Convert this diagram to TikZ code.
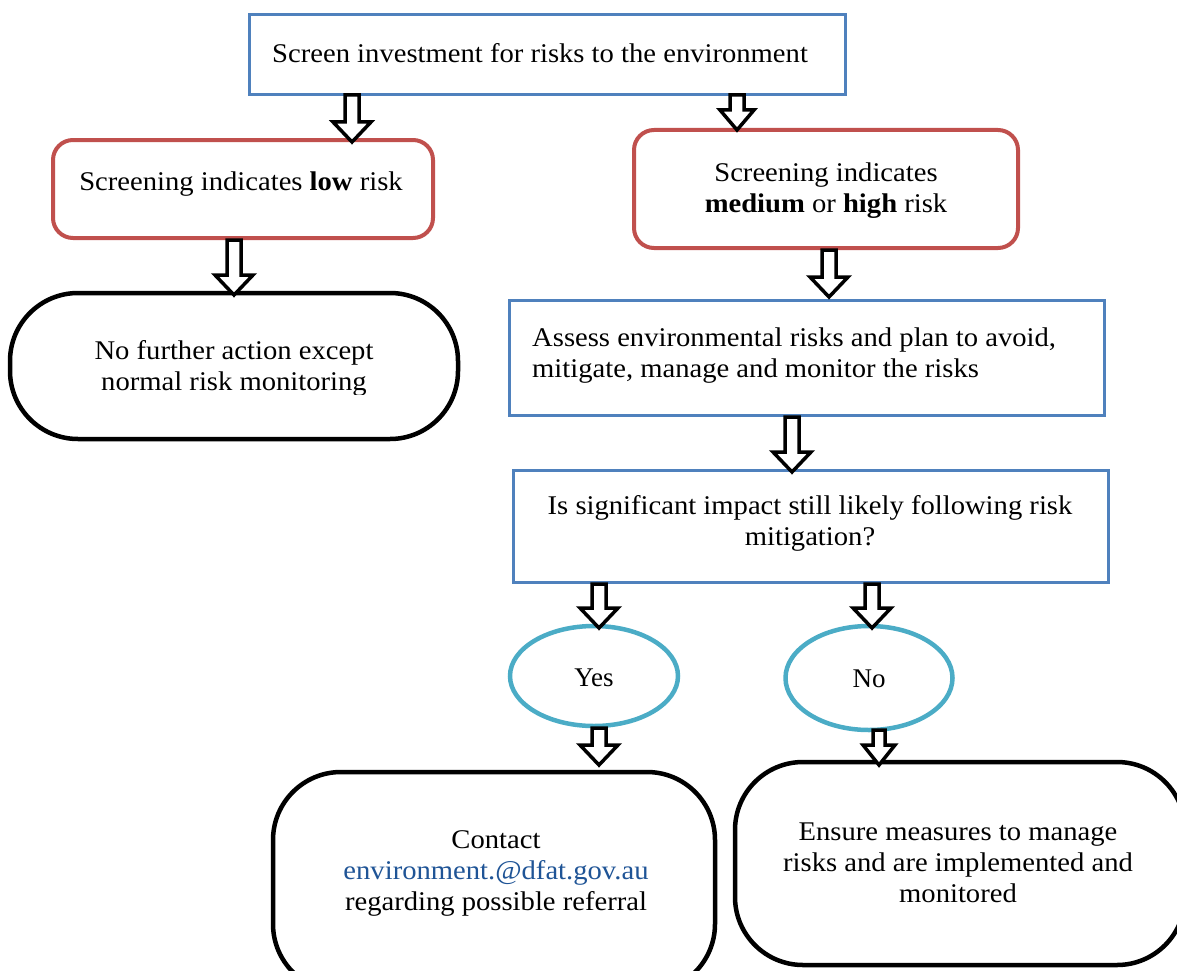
\documentclass[tikz,border=0pt]{standalone}
\usepackage{fontspec}
\setmainfont{Liberation Serif}[FakeStretch=1.06]
\newfontfamily\timesfont{Liberation Serif}
\usetikzlibrary{shapes.geometric,calc}
\definecolor{oblue}{RGB}{79,129,189}
\definecolor{ored}{RGB}{192,80,77}
\definecolor{ocyan}{RGB}{75,172,198}
\definecolor{olink}{RGB}{31,84,150}
\tikzset{
  bluebox/.style={draw=oblue, line width=3pt, fill=white, inner sep=0pt},
  redbox/.style={draw=ored, line width=4pt, rounded corners=20pt, fill=white, inner sep=0pt},
  stadium/.style={draw=black, line width=4.5pt, rounded corners=68pt, fill=white, inner sep=0pt},
  oval/.style={ellipse, draw=ocyan, line width=4.5pt, fill=white, inner sep=0pt},
  txt/.style={font=\fontsize{27}{31}\selectfont, align=center, inner sep=0pt},
  txtl/.style={font=\fontsize{27}{31}\selectfont, align=left, inner sep=0pt},
  yn/.style={font=\timesfont\fontsize{27}{30}\selectfont, inner sep=0pt},
  blk/.style={draw=black, line width=3.5pt, fill=white, line join=miter}
}
\newcommand\blkarrow[4]{% top coord, tip coord, shaft half width, head half width
  \draw[blk] let \p1=(#1), \p2=(#2) in
    (\x1-#3pt,\y1) -- (\x1+#3pt,\y1) -- (\x1+#3pt,\y2+20pt) -- (\x1+#4pt,\y2+20pt)
    -- (\x1,\y2) -- (\x1-#4pt,\y2+20pt) -- (\x1-#3pt,\y2+20pt) -- cycle;}
\begin{document}
\begin{tikzpicture}[x=1pt,y=-1pt]
\useasboundingbox (0,0) rectangle (1177,971);
% boxes
\node[bluebox, minimum width=596pt, minimum height=80pt] (b1) at (547,55) {};
\node[txtl, anchor=west] (t1) at (272,53) {Screen investment for risks to the environment};
\node[redbox, minimum width=380pt, minimum height=98pt] (r1) at (243,189) {};
\node[txt] (t2) at (241,184) {Screening indicates \textbf{low} risk};
\node[redbox, minimum width=384pt, minimum height=118pt] (r2) at (826,189) {};
\node[txt] (t3) at (826,191) {Screening indicates\\\textbf{medium} or \textbf{high} risk};
\node[stadium, minimum width=448pt, minimum height=146pt] (s1) at (234,366) {};
\begin{scope}
\clip (0,0) rectangle (1177,394);
\node[txt] (t4) at (234,368) {No further action except\\normal risk monitoring};
\end{scope}
\node[bluebox, minimum width=595pt, minimum height=115pt] (b2) at (806.5,357.5) {};
\node[txtl, anchor=west] (t5) at (532,356) {Assess environmental risks and plan to avoid,\\mitigate, manage and monitor the risks};
\node[bluebox, minimum width=595pt, minimum height=112pt] (b3) at (810.5,526) {};
\node[txt] (t6) at (810,523) {Is significant impact still likely following risk\\mitigation?};
\node[oval, minimum width=168pt, minimum height=100pt] (yes) at (594,676) {};
\node[yn] (tyes) at (594,678) {Yes};
\node[oval, minimum width=167pt, minimum height=104pt] (no) at (869,678) {};
\node[yn] (tno) at (869,679) {No};
\node[stadium, minimum width=442pt, minimum height=220pt] (s2) at (494,882) {};
\node[txt] (t7) at (496,873) {Contact\\\textcolor{olink}{environment.@dfat.gov.au}\\regarding possible referral};
\node[stadium, minimum width=450pt, minimum height=203pt] (s3) at (960,863.5) {};
\node[txt] (t8) at (958,863) {Ensure measures to manage\\risks and are implemented and\\monitored};
% arrow end points
\coordinate (a1s) at (352,95);  \coordinate (a1e) at (352,142);
\coordinate (a2s) at (737,95);  \coordinate (a2e) at (737,130);
\coordinate (a3s) at (234,240); \coordinate (a3e) at (234,295);
\coordinate (a4s) at (829,250); \coordinate (a4e) at (829,297);
\coordinate (a5s) at (792,417); \coordinate (a5e) at (792,472);
\coordinate (a6s) at (599,584); \coordinate (a6e) at (599,628);
\coordinate (a7s) at (872,584); \coordinate (a7e) at (872,628);
\coordinate (a8s) at (599,728); \coordinate (a8e) at (599,765);
\coordinate (a9s) at (879,730); \coordinate (a9e) at (879,765);
\blkarrow{a1s}{a1e}{7}{19}
\blkarrow{a2s}{a2e}{7}{17}
\blkarrow{a3s}{a3e}{7}{19}
\blkarrow{a4s}{a4e}{7}{19}
\blkarrow{a5s}{a5e}{7}{19}
\blkarrow{a6s}{a6e}{7}{19}
\blkarrow{a7s}{a7e}{7}{19}
\blkarrow{a8s}{a8e}{7}{19}
\blkarrow{a9s}{a9e}{6}{16}
\end{tikzpicture}
\end{document}
